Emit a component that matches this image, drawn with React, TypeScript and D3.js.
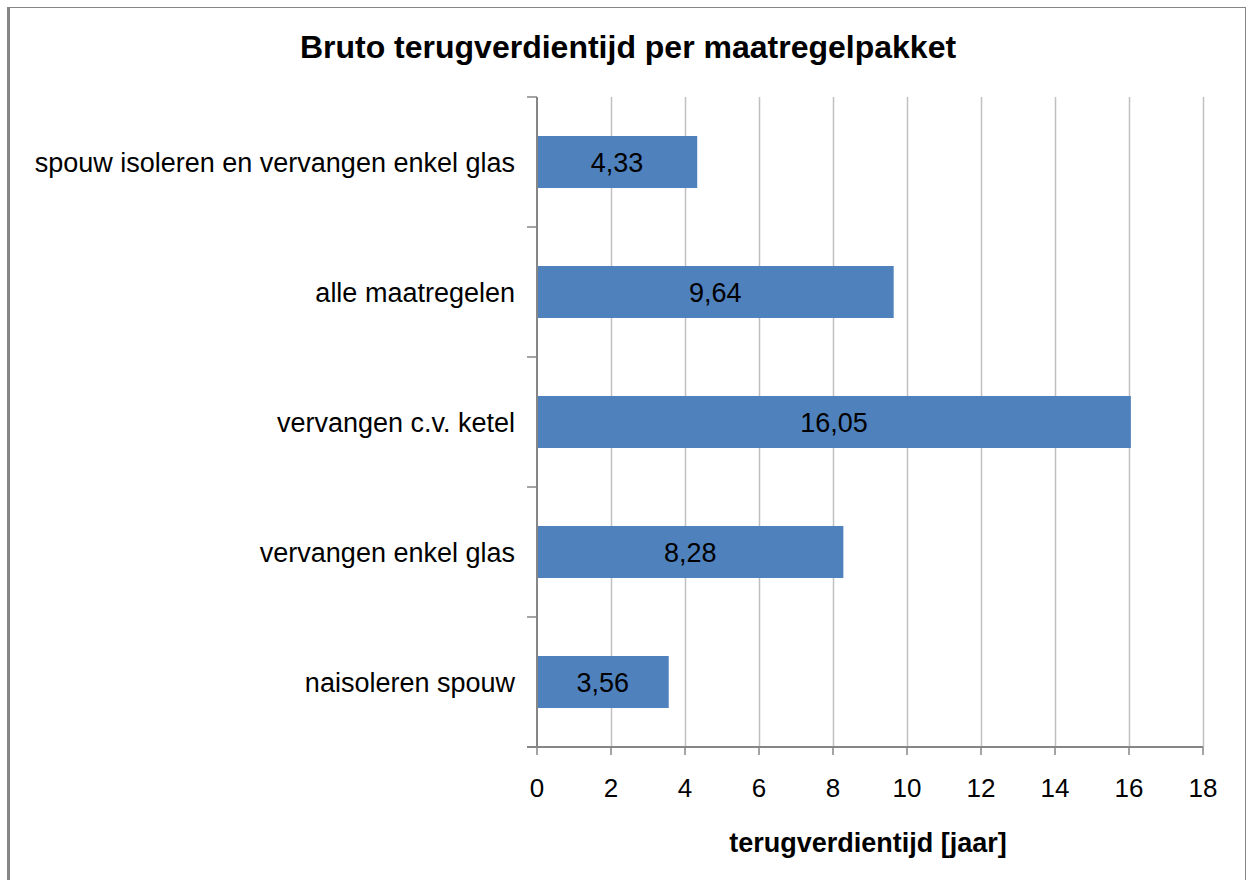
import React, { useRef, useEffect } from 'react';
import * as d3 from 'd3';

const categories = [
  'spouw isoleren en vervangen enkel glas',
  'alle maatregelen',
  'vervangen c.v. ketel',
  'vervangen enkel glas',
  'naisoleren spouw',
];
const values = [4.33, 9.64, 16.05, 8.28, 3.56];
const xTicks = [0, 2, 4, 6, 8, 10, 12, 14, 16, 18];

const title = 'Bruto terugverdientijd per maatregelpakket';
const xTitle = 'terugverdientijd [jaar]';

const App: React.FC = () => {
  const svgRef = useRef<SVGSVGElement>(null);
  const width = 1248;
  const height = 880;

  useEffect(() => {
    document.body.style.margin = '0';
    if (!svgRef.current) return;
    const svg = d3.select(svgRef.current);
    svg.selectAll('*').remove();

    const font = 'Arial, "Liberation Sans", sans-serif';
    const axisColor = '#868686';
    const gridColor = '#c0c0c0';

    // chart frame
    svg.append('rect')
      .attr('x', 8.5).attr('y', 7.5)
      .attr('width', 1237).attr('height', 900)
      .attr('fill', '#fff')
      .attr('stroke', axisColor).attr('stroke-width', 1);
    svg.append('line')
      .attr('x1', 8.5).attr('x2', 8.5).attr('y1', 7).attr('y2', height)
      .attr('stroke', axisColor).attr('stroke-width', 3);

    const plot = { left: 537, right: 1203, top: 97, bottom: 747 };

    const x = d3.scaleLinear().domain([0, 18]).range([plot.left, plot.right]);
    const y = d3.scaleBand<string>()
      .domain(categories)
      .range([plot.top, plot.bottom])
      .paddingInner(0.6)
      .paddingOuter(0.3);
    const yEdges = d3.range(categories.length + 1).map(i => plot.top + i * (plot.bottom - plot.top) / categories.length);

    // vertical gridlines
    svg.append('g')
      .selectAll('line')
      .data(xTicks.filter(t => t > 0))
      .enter()
      .append('line')
      .attr('x1', d => Math.round(x(d)) + 0.5)
      .attr('x2', d => Math.round(x(d)) + 0.5)
      .attr('y1', plot.top)
      .attr('y2', plot.bottom)
      .attr('stroke', gridColor)
      .attr('stroke-width', 1.5);

    // bars
    svg.append('g')
      .selectAll('rect')
      .data(values)
      .enter()
      .append('rect')
      .attr('x', x(0))
      .attr('y', (d, i) => y(categories[i])!)
      .attr('width', d => x(d) - x(0))
      .attr('height', y.bandwidth())
      .attr('fill', '#4f81bd');

    // value labels
    svg.append('g')
      .selectAll('text')
      .data(values)
      .enter()
      .append('text')
      .attr('x', d => (x(0) + x(d)) / 2)
      .attr('y', (d, i) => y(categories[i])! + y.bandwidth() / 2)
      .attr('dy', '0.36em')
      .attr('text-anchor', 'middle')
      .style('font-family', font)
      .style('font-size', '27px')
      .attr('fill', '#000')
      .text(d => d.toFixed(2).replace('.', ','));

    // y axis line and ticks
    svg.append('line')
      .attr('x1', plot.left).attr('x2', plot.left)
      .attr('y1', plot.top).attr('y2', plot.bottom)
      .attr('stroke', axisColor).attr('stroke-width', 2);
    svg.append('g')
      .selectAll('line')
      .data(yEdges)
      .enter()
      .append('line')
      .attr('x1', plot.left - 10).attr('x2', plot.left)
      .attr('y1', d => d).attr('y2', d => d)
      .attr('stroke', axisColor).attr('stroke-width', 1.5);

    // x axis line and ticks
    svg.append('line')
      .attr('x1', plot.left - 10).attr('x2', plot.right)
      .attr('y1', plot.bottom).attr('y2', plot.bottom)
      .attr('stroke', axisColor).attr('stroke-width', 2);
    svg.append('g')
      .selectAll('line')
      .data(xTicks)
      .enter()
      .append('line')
      .attr('x1', d => x(d)).attr('x2', d => x(d))
      .attr('y1', plot.bottom).attr('y2', plot.bottom + 8)
      .attr('stroke', axisColor).attr('stroke-width', 1.5);

    // x tick labels
    svg.append('g')
      .selectAll('text')
      .data(xTicks)
      .enter()
      .append('text')
      .attr('x', d => x(d))
      .attr('y', 797)
      .attr('text-anchor', 'middle')
      .style('font-family', font)
      .style('font-size', '26px')
      .attr('fill', '#000')
      .text(d => String(d));

    // category labels
    svg.append('g')
      .selectAll('text')
      .data(categories)
      .enter()
      .append('text')
      .attr('x', 515)
      .attr('y', d => y(d)! + y.bandwidth() / 2)
      .attr('dy', '0.36em')
      .attr('text-anchor', 'end')
      .style('font-family', font)
      .style('font-size', '27px')
      .attr('fill', '#000')
      .text(d => d);

    // titles
    svg.append('text')
      .attr('x', 628)
      .attr('y', 58)
      .attr('text-anchor', 'middle')
      .style('font-family', font)
      .style('font-size', '32px')
      .style('font-weight', 'bold')
      .text(title);

    svg.append('text')
      .attr('x', 868)
      .attr('y', 852)
      .attr('text-anchor', 'middle')
      .style('font-family', font)
      .style('font-size', '27px')
      .style('font-weight', 'bold')
      .text(xTitle);
  }, []);

  return <svg ref={svgRef} width={width} height={height} style={{ display: 'block' }} />;
};

export default App;
